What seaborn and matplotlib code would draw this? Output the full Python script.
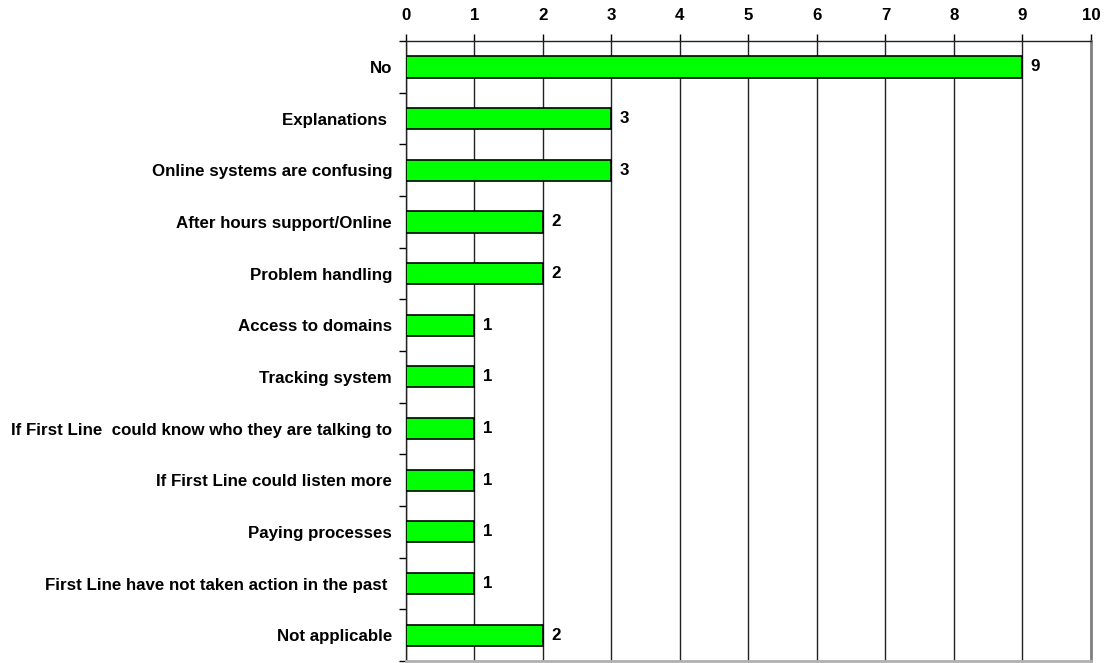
import numpy as np
import pandas as pd
import matplotlib.pyplot as plt
import seaborn as sns

# Data
categories = [
    "No",
    "Explanations ",
    "Online systems are confusing",
    "After hours support/Online",
    "Problem handling",
    "Access to domains",
    "Tracking system",
    "If First Line  could know who they are talking to",
    "If First Line could listen more",
    "Paying processes",
    "First Line have not taken action in the past ",
    "Not applicable",
]
counts = [9, 3, 3, 2, 2, 1, 1, 1, 1, 1, 1, 2]

df = pd.DataFrame({"category": categories, "count": counts})

sns.set_style("white")
plt.rcParams["font.family"] = ["Liberation Sans", "DejaVu Sans"]
plt.rcParams["font.weight"] = "bold"
plt.rcParams["text.color"] = "black"
plt.rcParams["xtick.color"] = "black"
plt.rcParams["ytick.color"] = "black"

fs = 12.2

fig = plt.figure(figsize=(11.06, 6.63), dpi=100)
ax = fig.add_axes([0.367, 0.003, 0.6194, 0.935])

sns.barplot(data=df, x="count", y="category", orient="h", color="#00FF00",
            edgecolor="black", linewidth=1.2, width=0.41, saturation=1, ax=ax, zorder=3)

# value labels
for i, v in enumerate(counts):
    ax.text(v + 0.12, i, str(v), va="center", ha="left", fontsize=fs,
            fontweight="bold", color="black")

ax.set_xlim(0, 10)
ax.set_ylim(len(categories) - 0.5, -0.5)
ax.set_xticks(range(0, 11))
ax.xaxis.tick_top()
ax.tick_params(axis="x", which="major", direction="out", length=5, width=1,
               top=True, bottom=False, labelsize=fs, pad=8, colors="black")
ax.set_xlabel("")
ax.set_ylabel("")

# y ticks at category boundaries, labels at category centers
ax.set_yticks(np.arange(len(categories)))
ax.set_yticklabels(categories, fontsize=fs, fontweight="bold", color="black")
ax.set_yticks(np.arange(-0.5, len(categories), 1), minor=True)
ax.tick_params(axis="y", which="major", length=0, pad=10)
ax.tick_params(axis="y", which="minor", direction="out", length=5, width=1, left=True)
for lbl in ax.get_xticklabels():
    lbl.set_fontweight("bold")

ax.grid(axis="x", color="#222222", linewidth=1, zorder=0)
ax.grid(axis="y", visible=False)
ax.set_axisbelow(True)

for side in ["left", "top"]:
    ax.spines[side].set_color("#222222")
    ax.spines[side].set_linewidth(1)
ax.spines["right"].set_color("#808080")
ax.spines["right"].set_linewidth(2)
ax.spines["bottom"].set_color("#b0b0b0")
ax.spines["bottom"].set_linewidth(2)

plt.savefig("out.png", dpi=100)
